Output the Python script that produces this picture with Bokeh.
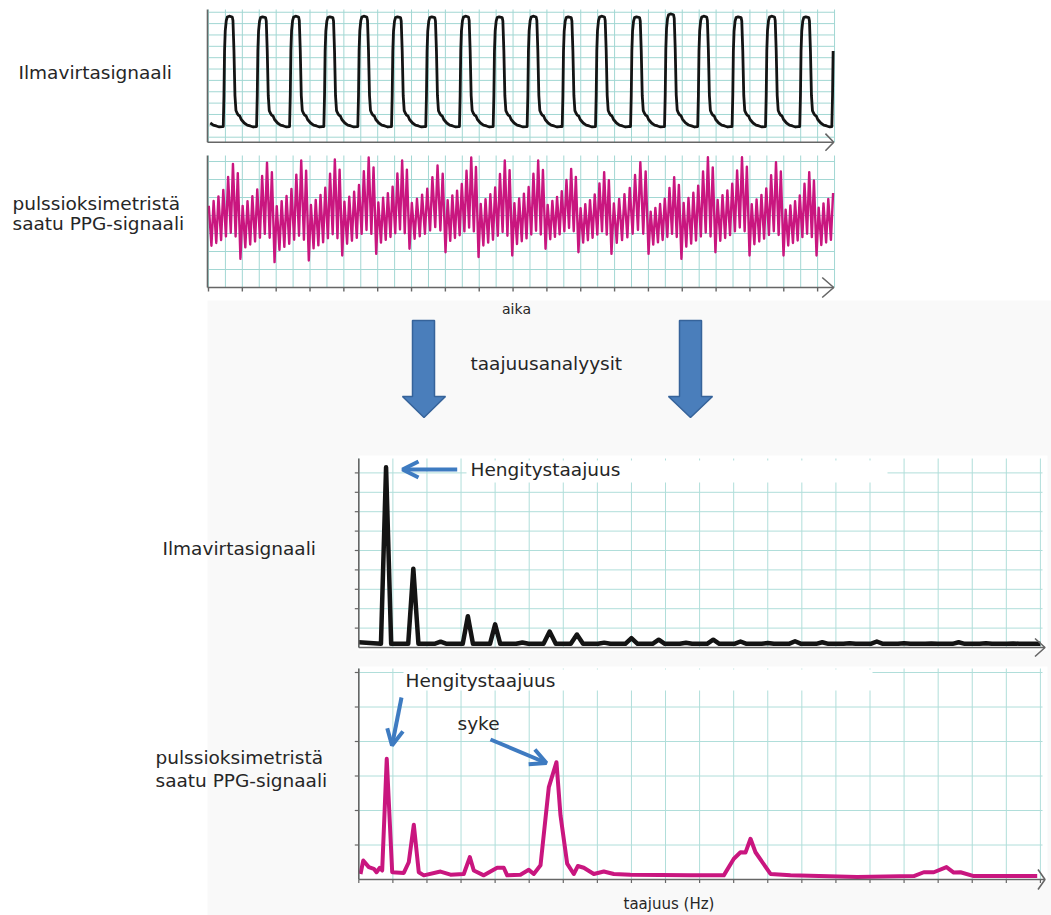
import numpy as np
from bokeh.plotting import figure
from bokeh.models import Range1d, Arrow, OpenHead
from bokeh.core.properties import value
from bokeh.embed import file_html
from bokeh.resources import INLINE

# ------------------------------------------------------------------
# DATA
# ------------------------------------------------------------------
# Airflow trace: inspiration onsets [s] and plateau level of each breath
air_onset_t = [-1.42, 1.09, 3.55, 5.99, 8.52, 11.03, 13.52, 16.05, 18.54, 21.03,
               23.54, 26.13, 28.59, 31.18, 33.69, 36.14, 38.68, 41.15, 43.68, 46.05]
air_top_level = [10.6, 10.65, 10.6, 10.65, 10.6, 10.65, 10.6, 10.6, 10.65, 10.6,
                 10.65, 10.6, 10.65, 10.6, 10.85, 10.65, 10.6, 10.65, 10.6, 10.6]
# one airflow cycle: seconds after onset, level
air_cycle_dt = [0.0, 0.052, 0.096, 0.148, 0.222, 0.296, 0.443, 0.665, 0.717, 0.790,
                0.864, 0.938, 1.034, 1.108, 1.219, 1.330, 1.551, 1.773, 1.995, 2.216, 2.438]
air_cycle_v = [0.94, 3.67, 7.63, 9.39, 10.27, 10.58, 10.65, 10.58, 10.27, 7.63,
               3.67, 2.35, 2.09, 1.95, 1.87, 1.56, 1.25, 1.07, 0.99, 0.90, 0.94]
AIR_REF_TOP, AIR_REF_LOW = 10.65, 0.94

# PPG trace: time of the deep drop of each breath, the drop level and the
# highest beat of the breath
ppg_drop_t = [-0.14, 2.36, 4.88, 7.41, 9.88, 12.39, 14.85, 17.51, 19.95, 22.44,
              24.90, 27.33, 29.77, 32.51, 34.94, 37.45, 39.97, 42.48, 44.92, 47.40]
ppg_deep = [1.70, 1.59, 1.41, 1.50, 1.78, 1.87, 2.15, 1.96, 1.69, 1.78,
            2.15, 1.96, 1.87, 1.87, 1.59, 1.96, 1.78, 1.78, 1.78]
ppg_top = [6.87, 6.94, 7.06, 7.11, 7.22, 7.06, 6.78, 7.22, 7.06, 7.06,
           6.59, 6.41, 6.96, 6.13, 7.24, 7.24, 6.96, 6.41, 6.60]
# the seven heart beats inside one breath (share of the breath's swing)
beat_trough_frac = [0.00, 0.12, 0.15, 0.18, 0.22, 0.26, 0.22]
beat_peak_frac = [0.55, 0.60, 0.65, 0.72, 0.86, 1.00, 0.90]
BEAT_PEAK_AT = 0.45
T_END = 46.19

# Airflow spectrum: harmonics of the breathing frequency
BREATH_HZ = 0.4
spec1_harmonic = list(range(1, 25))
spec1_peak = [9.29, 4.06, 0.30, 1.61, 1.19, 0.26, 0.82, 0.67, 0.25, 0.48, 0.40, 0.24,
              0.40, 0.31, 0.23, 0.32, 0.27, 0.22, 0.31, 0.22, 0.21, 0.27, 0.22, 0.21]
spec1_base = 0.19

# PPG spectrum (Hz, magnitude)
spec2_f = [0.025, 0.065, 0.147, 0.22, 0.26, 0.308, 0.343, 0.41, 0.49, 0.66, 0.733, 0.807,
           0.88, 0.954, 1.199, 1.345, 1.54, 1.629, 1.687, 1.834, 2.03, 2.127, 2.177, 2.372,
           2.494, 2.567, 2.666, 2.788, 2.90, 2.959, 3.057, 3.154, 3.213, 3.301, 3.448, 3.594,
           3.741, 3.986, 4.866, 5.355, 5.502, 5.60, 5.673, 5.747, 5.82, 6.04, 6.334, 7.312,
           8.143, 8.289, 8.436, 8.622, 8.729, 8.828, 9.023, 9.953]
spec2_a = [0.16, 0.55, 0.36, 0.31, 0.21, 0.34, 0.26, 3.50, 0.21, 0.19, 0.50, 1.59,
           0.21, 0.12, 0.23, 0.14, 0.16, 0.65, 0.26, 0.12, 0.34, 0.34, 0.12, 0.14,
           0.28, 0.16, 0.41, 2.68, 3.40, 1.86, 0.46, 0.16, 0.39, 0.34, 0.16, 0.23,
           0.16, 0.14, 0.12, 0.12, 0.60, 0.79, 0.78, 1.18, 0.79, 0.16, 0.12, 0.07,
           0.10, 0.21, 0.21, 0.36, 0.20, 0.21, 0.10, 0.10]

# Texts
label_text = ["Ilmavirtasignaali", "pulssioksimetristä", "saatu PPG-signaali",
              "Ilmavirtasignaali", "pulssioksimetristä", "saatu PPG-signaali",
              "taajuusanalyysit", "Hengitystaajuus", "Hengitystaajuus", "syke"]
label_x = [18, 12, 12, 162, 155, 155, 470, 470, 405, 457]
label_y = [72, 203, 223, 548, 757, 780, 363, 469, 680, 723]

# ------------------------------------------------------------------
# LAYOUT / STYLE
# ------------------------------------------------------------------
W, H = 1051, 915
FONT = "DejaVu Sans"
TXT = "#262626"
GRID_TOP = "#A2D7D3"
GRID_SPEC = "#B0DEDA"
AXIS = "#666666"
BLACK = "#141414"
MAGENTA = "#C9167F"
BLUE = "#3E7BC1"

T_X0, PX_PER_S = 208.0, 13.536
AIR_Y0, AIR_PX = 136.7, 11.36
PPG_Y0, PPG_PX = 287.0, 18.0
F_X0, PX_PER_HZ = 358.3, 68.16
S1_Y0, S1_PX = 647.0, 19.4
S2_Y0, S2_PX = 879.0, 34.5


def xr(x0, k):
    return Range1d(-x0 / k, (W - x0) / k)


def yr(y0, k):
    return Range1d((y0 - H) / k, y0 / k)


p = figure(width=W, height=H, x_range=Range1d(0, W), y_range=Range1d(H, 0),
           output_backend="svg", toolbar_location=None,
           x_axis_location=None, y_axis_location=None, min_border=0,
           outline_line_color=None, background_fill_color="white",
           border_fill_color="white")
p.grid.visible = False
p.extra_x_ranges = {"time": xr(T_X0, PX_PER_S), "freq": xr(F_X0, PX_PER_HZ)}
p.extra_y_ranges = {"air": yr(AIR_Y0, AIR_PX), "ppg": yr(PPG_Y0, PPG_PX),
                    "s1": yr(S1_Y0, S1_PX), "s2": yr(S2_Y0, S2_PX)}

# page background of the lower half (slightly grey) and white plot areas
p.quad(left=[207], right=[W], top=[300], bottom=[H], fill_color="#F9F9F9", line_color=None)
p.quad(left=[358, 358], right=[1047, 1047], top=[455, 666], bottom=[650, 881],
       fill_color="white", line_color=None)


def grid(vx, hy, xlo, xhi, ylo, yhi, xn, yn, color):
    n, m = len(vx), len(hy)
    p.segment(x0=vx, y0=[ylo] * n, x1=vx, y1=[yhi] * n, x_range_name=xn,
              y_range_name=yn, line_color=color, line_width=1)
    p.segment(x0=[xlo] * m, y0=hy, x1=[xhi] * m, y1=hy, x_range_name=xn,
              y_range_name=yn, line_color=color, line_width=1)


def axes(xn, yn, x_axis, x_end, y_axis, y_top, tip_dx, tip_dy, width=1.6):
    p.line(x=[x_axis, x_axis], y=[y_axis, y_top], x_range_name=xn, y_range_name=yn,
           line_color=AXIS, line_width=width)
    p.line(x=[x_axis, x_end], y=[y_axis, y_axis], x_range_name=xn, y_range_name=yn,
           line_color=AXIS, line_width=width)
    p.line(x=[x_end - tip_dx, x_end, x_end - tip_dx],
           y=[y_axis + tip_dy, y_axis, y_axis - tip_dy], x_range_name=xn,
           y_range_name=yn, line_color=AXIS, line_width=width)


# ---------------- upper panels (time) ----------------
t_grid = [1.25 * k for k in range(38)]
t_axis = (207 - T_X0) / PX_PER_S
air_axis = (AIR_Y0 - 141.7) / AIR_PX
air_topv = (AIR_Y0 - 9) / AIR_PX
grid(t_grid, list(range(0, 12)), t_axis, t_grid[-1], air_axis, air_topv, "time", "air", GRID_TOP)
ppg_topv = (PPG_Y0 - 155) / PPG_PX
grid(t_grid, list(range(1, 8)), t_axis, t_grid[-1], 0, ppg_topv, "time", "ppg", GRID_TOP)

# airflow trace
air_t, air_v = [], []
for k, t0 in enumerate(air_onset_t):
    nxt = air_onset_t[k + 1] if k + 1 < len(air_onset_t) else 1e9
    scale = (air_top_level[k] - AIR_REF_LOW) / (AIR_REF_TOP - AIR_REF_LOW)
    for dt, v in zip(air_cycle_dt, air_cycle_v):
        t = t0 + dt
        if t >= nxt or t < 0 or t > T_END:
            continue
        air_t.append(t)
        air_v.append(AIR_REF_LOW + (v - AIR_REF_LOW) * scale)
p.line(air_t, air_v, x_range_name="time", y_range_name="air", line_color=BLACK,
       line_width=2.8, line_join="round")

# PPG trace
ppg_t, ppg_v = [], []
for k in range(len(ppg_deep)):
    t0, t1 = ppg_drop_t[k], ppg_drop_t[k + 1]
    d = (t1 - t0) / len(beat_peak_frac)
    swing = ppg_top[k] - ppg_deep[k]
    for j in range(len(beat_peak_frac)):
        for t, v in ((t0 + j * d, ppg_deep[k] + swing * beat_trough_frac[j]),
                     (t0 + (j + BEAT_PEAK_AT) * d, ppg_deep[k] + swing * beat_peak_frac[j])):
            if 0 <= t <= T_END:
                ppg_t.append(t)
                ppg_v.append(v)
p.line(ppg_t, ppg_v, x_range_name="time", y_range_name="ppg", line_color=MAGENTA,
       line_width=2.4, line_join="round")

axes("time", "air", t_axis, T_END, air_axis, air_topv, 8.3 / PX_PER_S, 8.6 / AIR_PX)
axes("time", "ppg", t_axis, T_END, 0, ppg_topv, 11.5 / PX_PER_S, 10 / PPG_PX)
tick_t = [2.5 * k for k in range(19)]
p.segment(x0=tick_t, y0=[0] * 19, x1=tick_t, y1=[-4 / PPG_PX] * 19, x_range_name="time",
          y_range_name="ppg", line_color=AXIS, line_width=1.4)

# ---------------- spectra (frequency) ----------------
f_grid = [0.5 * k for k in range(21)]
f_axis_end = (1044.5 - F_X0) / PX_PER_HZ
f_hgrid_end = (1042 - F_X0) / PX_PER_HZ
s1_topv = (S1_Y0 - 458) / S1_PX
s2_topv = (S2_Y0 - 668) / S2_PX
grid(f_grid, list(range(1, 10)), 0, f_hgrid_end, 0, s1_topv, "freq", "s1", GRID_SPEC)
grid(f_grid, list(range(1, 7)), 0, f_hgrid_end, 0, s2_topv, "freq", "s2", GRID_SPEC)

# white boxes behind the annotation texts
p.quad(left=[466, 403], right=[887, 872], top=[460, 669], bottom=[482, 690],
       fill_color="white", line_color=None)

# airflow spectrum
s1_f, s1_a = [0.0], [0.27]
for h, a in zip(spec1_harmonic, spec1_peak):
    fc = h * BREATH_HZ
    w = 0.075 if a > 1 else 0.09
    s1_f += [fc - w, fc, fc + w]
    s1_a += [spec1_base, a, spec1_base]
s1_f.append(10.0)
s1_a.append(spec1_base)
p.line(s1_f, s1_a, x_range_name="freq", y_range_name="s1", line_color=BLACK,
       line_width=4.5, line_join="round")

# PPG spectrum
p.line(spec2_f, spec2_a, x_range_name="freq", y_range_name="s2", line_color=MAGENTA,
       line_width=4, line_join="round")

axes("freq", "s1", 0, f_axis_end, 0, s1_topv, 10 / PX_PER_HZ, 9 / S1_PX)
axes("freq", "s2", 0, f_axis_end, 0, s2_topv, 7 / PX_PER_HZ, 10 / S2_PX)
s1_ticks = list(range(1, 10))
p.segment(x0=[0] * 9, y0=s1_ticks, x1=[-4 / PX_PER_HZ] * 9, y1=s1_ticks,
          x_range_name="freq", y_range_name="s1", line_color=AXIS, line_width=1.2)
s2_ticks = list(range(1, 7))
p.segment(x0=[0] * 6, y0=s2_ticks, x1=[-4 / PX_PER_HZ] * 6, y1=s2_ticks,
          x_range_name="freq", y_range_name="s2", line_color=AXIS, line_width=1.2)
p.segment(x0=f_grid, y0=[0] * 21, x1=f_grid, y1=[-3.5 / S2_PX] * 21,
          x_range_name="freq", y_range_name="s2", line_color=AXIS, line_width=1.2)

# ---------------- block arrows ----------------
p.patches(xs=[[412, 434, 434, 445, 423.5, 402, 412], [679, 701, 701, 712, 690, 668, 679]],
          ys=[[320, 320, 396, 396, 417, 396, 396], [320, 320, 396, 396, 417, 396, 396]],
          fill_color="#4A7EBB", line_color="#36639A", line_width=1.5)

# ---------------- texts ----------------
p.text(x=label_x, y=label_y, text=label_text, text_font=value(FONT),
       text_font_size=value("18.5px"), text_baseline="middle", text_align="left",
       text_color=TXT)
p.text(x=[516], y=[308], text=["aika"], text_font=value(FONT),
       text_font_size=value("14px"), text_baseline="middle", text_align="center",
       text_color=TXT)
p.text(x=[623], y=[903], text=["taajuus (Hz)"], text_font=value(FONT),
       text_font_size=value("15px"), text_baseline="middle", text_align="left",
       text_color=TXT)

# ---------------- call-out arrows ----------------
for xs, ys, xe, ye in [(456.7, 469, 402, 469), (401, 697, 391.5, 745), (490, 739, 546, 762.5)]:
    p.add_layout(Arrow(end=OpenHead(size=16, line_width=4, line_color=BLUE),
                       x_start=xs, y_start=ys, x_end=xe, y_end=ye,
                       line_width=4, line_color=BLUE))

open("out.html", "w").write(file_html(p, INLINE))
